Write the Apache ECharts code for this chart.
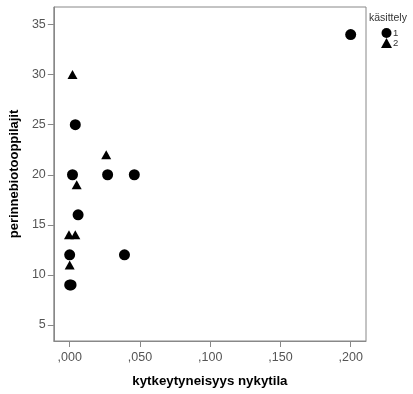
<!DOCTYPE html>
<html><head><meta charset="utf-8">
<script src="https://cdn.jsdelivr.net/npm/echarts@6/dist/echarts.min.js"></script>
<style>html,body{margin:0;padding:0;background:#fff}#c{width:413px;height:394px}</style>
</head><body><div id="c"></div>
<script>
// group 1 (circles)
const group1 = [[0.200,34],[0.004,25],[0.002,20],[0.027,20],[0.046,20],[0.006,16],[0.000,12],[0.039,12],[0.000,9],[0.001,9]];
// group 2 (triangles)
const group2 = [[0.002,30],[0.026,22],[0.005,19],[-0.0005,14],[0.004,14],[0.000,11]];
const xTicks = [0,0.05,0.1,0.15,0.2];
const yTicks = [5,10,15,20,25,30,35];
const legendNames = ['1','2'];

const chart = echarts.init(document.getElementById('c'));
const lblFont = 'Liberation Sans, Arial, sans-serif';
chart.setOption({
  animation:false,
  grid:{left:50,right:47,top:7,bottom:53,show:true,borderColor:'#888',borderWidth:1,containLabel:false},
  title:{text:'käsittely',left:369,top:13,padding:0,textStyle:{fontSize:10.5,fontWeight:'normal',color:'#333',fontFamily:lblFont}},
  legend:{orient:'vertical',left:381,top:28,padding:0,itemWidth:11,itemHeight:10,itemGap:0,
    data:[{name:'1',icon:'circle'},{name:'2',icon:'triangle'}],
    textStyle:{fontSize:9.5,color:'#333',fontFamily:lblFont,padding:[2,0,0,-4]}},
  xAxis:{type:'value',min:-0.0113,max:0.2109,
    name:'kytkeytyneisyys nykytila',nameLocation:'middle',nameGap:34,
    nameTextStyle:{fontSize:13.3,fontWeight:'bold',color:'#000',fontFamily:lblFont},
    axisLine:{show:true,onZero:false,lineStyle:{color:'#888'}},
    axisTick:{show:true,length:6,customValues:xTicks,lineStyle:{color:'#888'}},
    axisLabel:{customValues:xTicks,fontSize:12.5,color:'#555',margin:10,fontFamily:lblFont,
      formatter:v=>v.toFixed(3).replace(/^0\./,',')},
    splitLine:{show:false}},
  yAxis:{type:'value',min:3.4,max:36.75,
    name:'perinnebiotooppilajit',nameLocation:'middle',nameGap:27,
    nameTextStyle:{fontSize:13,fontWeight:'bold',color:'#000',fontFamily:lblFont},
    axisLine:{show:true,onZero:false,lineStyle:{color:'#888'}},
    axisTick:{show:true,length:6,customValues:yTicks,lineStyle:{color:'#888'}},
    axisLabel:{customValues:yTicks,fontSize:12.5,color:'#555',margin:8,fontFamily:lblFont},
    splitLine:{show:false}},
  series:[
    {name:legendNames[0],type:'scatter',symbol:'circle',symbolSize:11,data:group1,itemStyle:{color:'#000',opacity:1}},
    {name:legendNames[1],type:'scatter',symbol:'triangle',symbolSize:[10,9],data:group2,itemStyle:{color:'#000',opacity:1}}
  ]
});
</script></body></html>
